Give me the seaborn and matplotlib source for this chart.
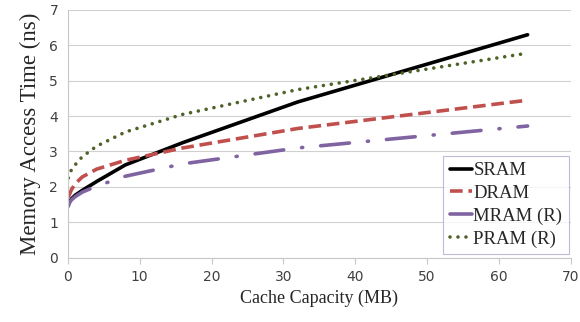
import pandas as pd
import seaborn as sns
import matplotlib.pyplot as plt

# cache capacity (MB) and access times (ns)
capacity = [0.0625, 0.125, 0.25, 0.5, 1, 2, 4, 8, 16, 32, 64]
sram = [1.48, 1.52, 1.58, 1.66, 1.76, 1.9, 2.15, 2.62, 3.25, 4.4, 6.3]
dram = [1.7, 1.74, 1.8, 1.92, 2.08, 2.28, 2.5, 2.75, 3.1, 3.65, 4.45]
mram = [1.45, 1.5, 1.56, 1.63, 1.72, 1.85, 2.02, 2.3, 2.65, 3.1, 3.72]
pram = [2.25, 2.3, 2.38, 2.48, 2.62, 2.85, 3.15, 3.55, 4.05, 4.75, 5.78]

names = ["SRAM", "DRAM", "MRAM (R)", "PRAM (R)"]
colors = ["#000000", "#C0504D", "#8064A2", "#4F6228"]

rows = []
for name, vals in zip(names, [sram, dram, mram, pram]):
    for c, v in zip(capacity, vals):
        rows.append({"capacity": c, "time": v, "memory": name})
df = pd.DataFrame(rows)

sns.set_style("white")
plt.rcParams["font.family"] = ["DejaVu Sans"]

fig, ax = plt.subplots(figsize=(5.8, 3.22), dpi=100)
fig.subplots_adjust(left=0.117, right=0.984, top=0.969, bottom=0.2)

sns.lineplot(data=df, x="capacity", y="time", hue="memory", palette=colors,
             hue_order=names, ax=ax, linewidth=2.6, legend=False)

lines = ax.get_lines()
lines[1].set_dashes([3.5, 1.6])
lines[2].set_dashes([8, 5, 0.3, 5])
lines[2].set_dash_capstyle("round")
lines[3].set_dashes([0.01, 2.2])
lines[3].set_dash_capstyle("round")

ax.set_xlim(0, 70)
ax.set_ylim(0, 7)
ax.set_xticks(range(0, 71, 10))
ax.set_yticks(range(0, 8))
ax.yaxis.grid(True, color="#D0D0D0", linewidth=0.8)
ax.set_axisbelow(True)
for s in ["top", "right"]:
    ax.spines[s].set_visible(False)
ax.spines["left"].set_color("#C8C8C8")
ax.spines["bottom"].set_color("#C8C8C8")
ax.tick_params(axis="x", which="both", bottom=True, length=4, color="#C8C8C8",
               labelsize=10, labelcolor="#404040", pad=5)
ax.tick_params(axis="y", left=False, labelsize=10, labelcolor="#404040")

serif = {"family": "Liberation Serif"}
ax.set_xlabel("Cache Capacity (MB)", fontdict=serif, fontsize=13, labelpad=4)
ax.set_ylabel("Memory Access Time (ns)", fontdict=serif, fontsize=16.5, labelpad=6)

leg = ax.legend(lines, names, loc="lower right", bbox_to_anchor=(1.0, 0.005),
                prop={"family": "Liberation Serif", "size": 13.5}, frameon=True,
                fancybox=False, handlelength=1.2, handletextpad=0.05,
                labelspacing=0.3, borderpad=0.35, borderaxespad=0.1)
leg.get_frame().set_edgecolor("#B4A7D0")
leg.get_frame().set_linewidth(0.8)

plt.savefig("out.png", dpi=100)
